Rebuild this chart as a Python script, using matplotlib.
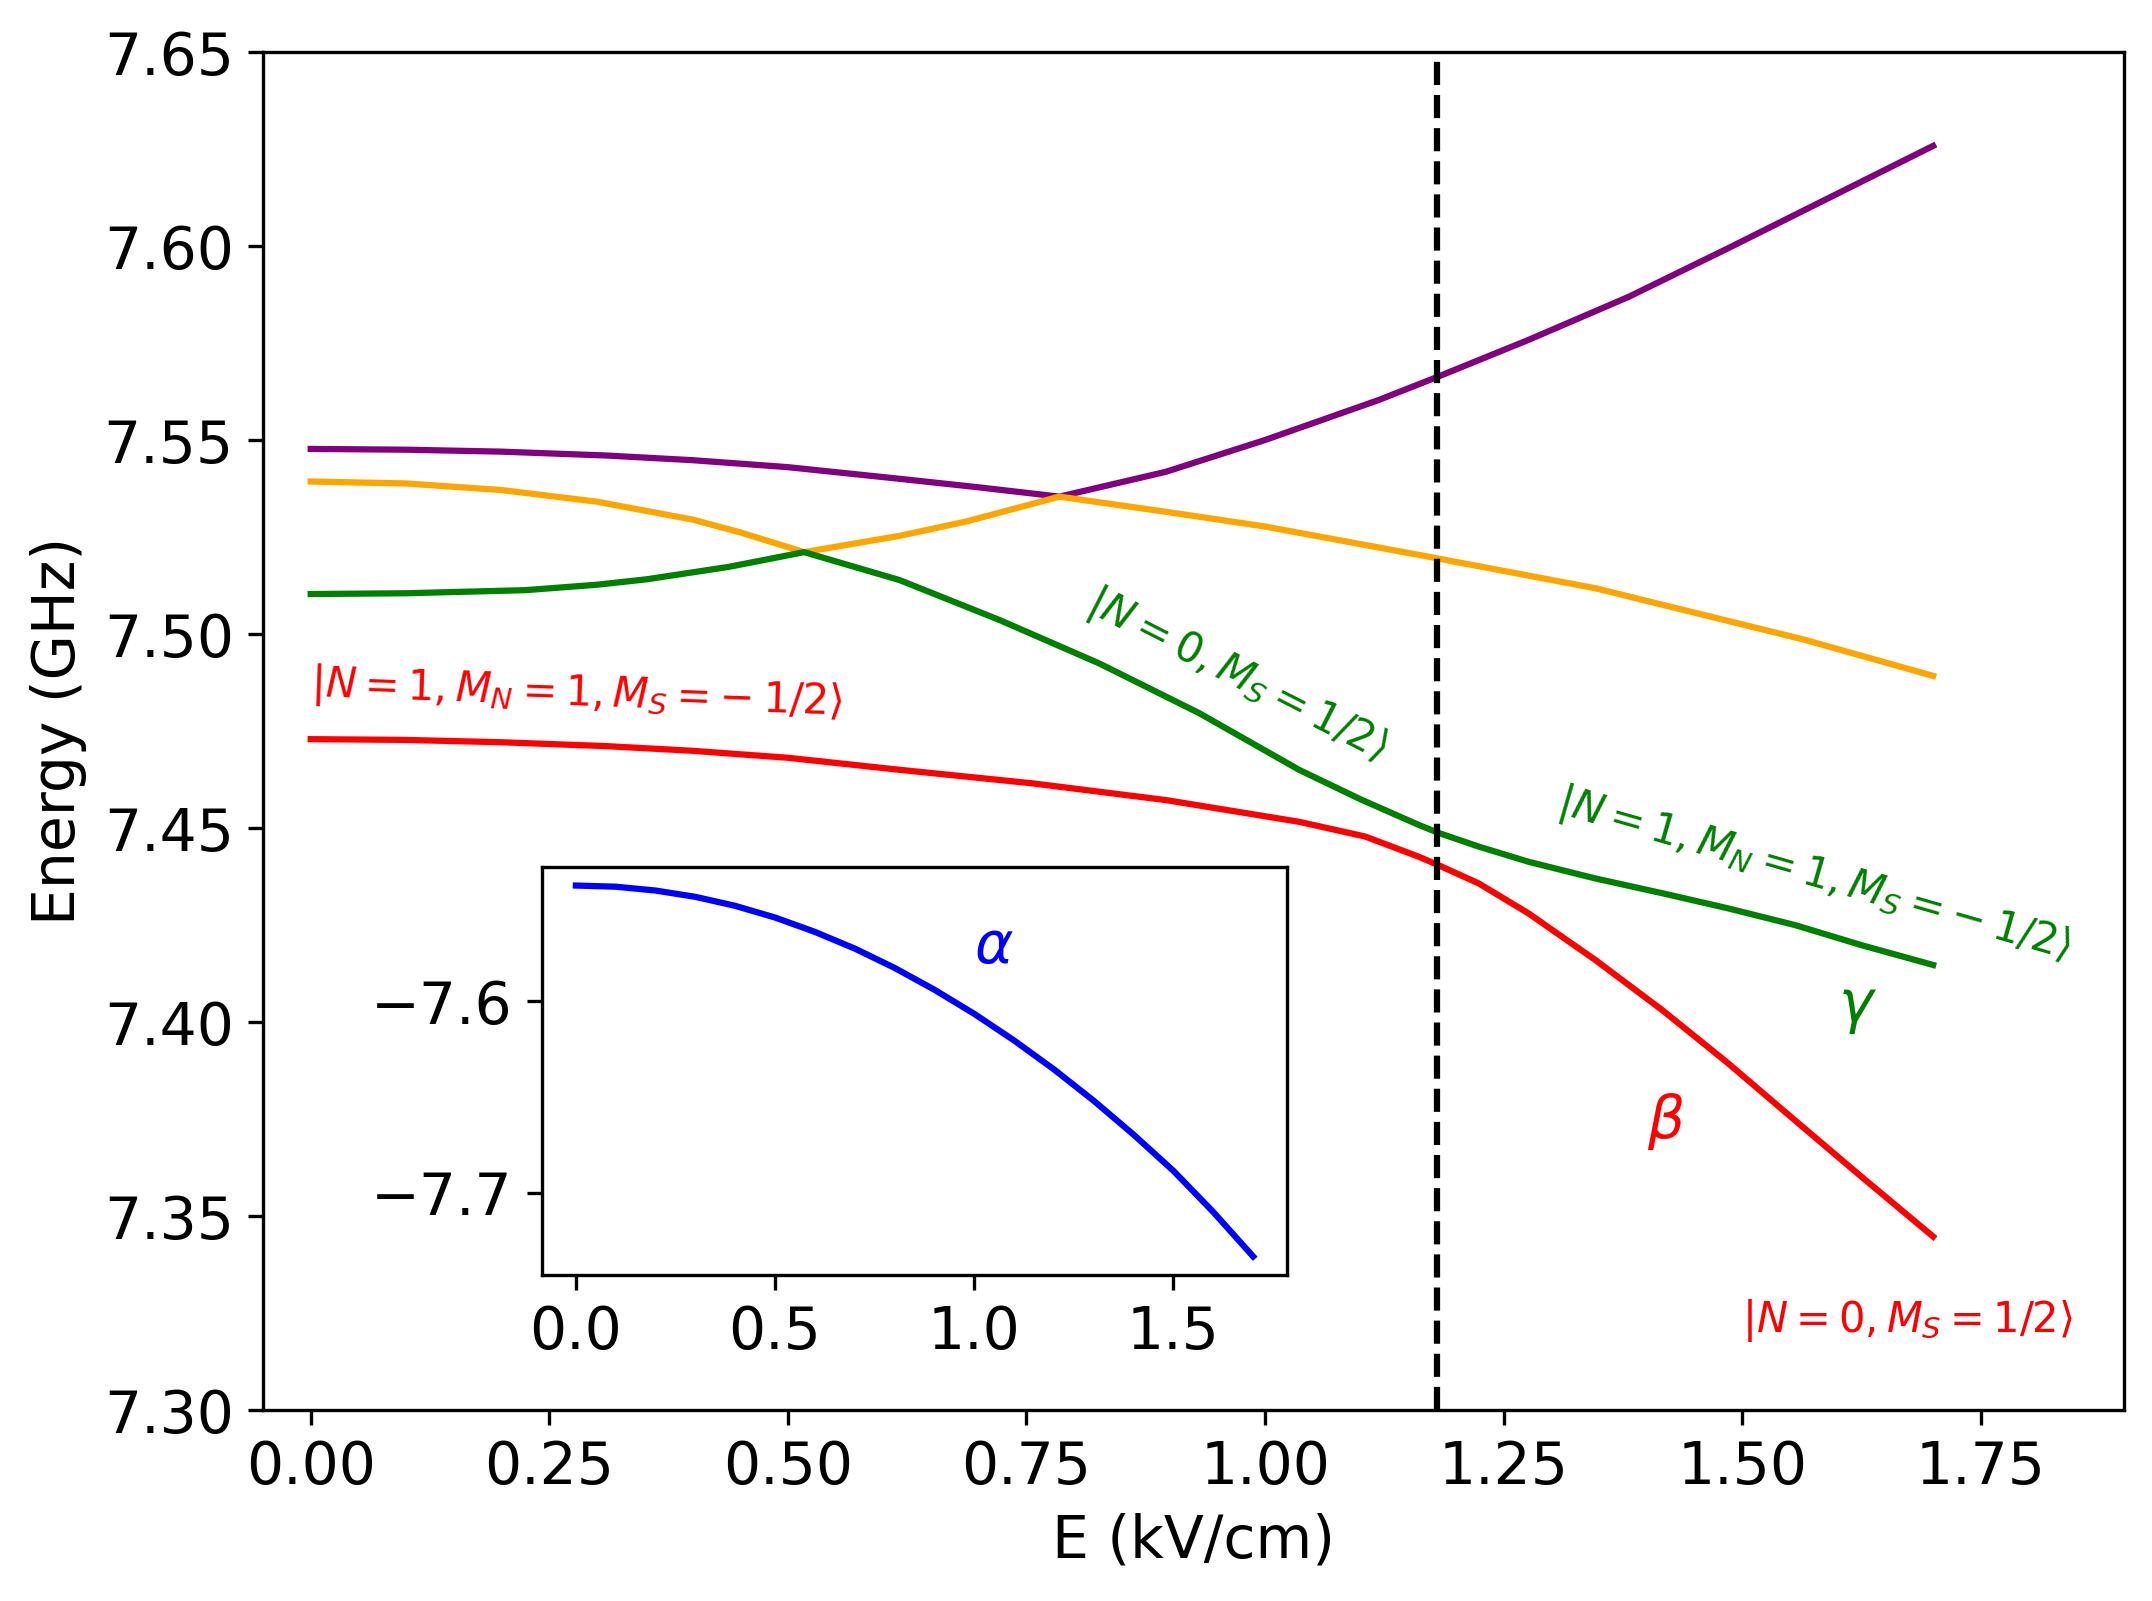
import numpy as np
import matplotlib
matplotlib.use("Agg")
import matplotlib.pyplot as plt

plt.rcParams['font.size'] = 14

# energy levels (GHz) vs field (kV/cm)
E_purple = [0, 0.1, 0.2, 0.31, 0.4, 0.5, 0.617, 0.7, 0.7845, 0.896, 1.0,
            1.119, 1.181, 1.276, 1.381, 1.485, 1.59, 1.70]
purple = [7.5477, 7.5475, 7.5470, 7.5460, 7.5448, 7.5430, 7.5400, 7.5378,
          7.5354, 7.5418, 7.5500, 7.5603, 7.5663, 7.5758, 7.5869, 7.5994,
          7.6123, 7.6258]

E_orange = [0, 0.1, 0.2, 0.3, 0.4, 0.45, 0.517, 0.617, 0.687, 0.7845, 0.896,
            1.0, 1.161, 1.346, 1.5656, 1.70]
orange = [7.5393, 7.5388, 7.5371, 7.5341, 7.5295, 7.5262, 7.5211, 7.5253,
          7.5290, 7.5354, 7.5315, 7.5277, 7.5204, 7.5118, 7.4985, 7.4892]

E_green = [0, 0.1, 0.225, 0.3, 0.352, 0.438, 0.517, 0.617, 0.7218, 0.8264,
           0.931, 1.0356, 1.1, 1.161, 1.181, 1.224, 1.276, 1.346, 1.416,
           1.485, 1.555, 1.625, 1.70]
green = [7.5103, 7.5105, 7.5113, 7.5127, 7.5141, 7.5173, 7.5211, 7.5139,
         7.5036, 7.4924, 7.4796, 7.4650, 7.4574, 7.4508, 7.4488, 7.4452,
         7.4413, 7.4370, 7.4332, 7.4293, 7.4250, 7.4198, 7.4147]

E_red = [0, 0.1, 0.2, 0.31, 0.4, 0.5, 0.617, 0.7566, 0.896, 1.0356, 1.105,
         1.161, 1.181, 1.224, 1.276, 1.346, 1.416, 1.485, 1.555, 1.625, 1.70]
red = [7.4729, 7.4727, 7.4721, 7.4711, 7.4699, 7.4681, 7.4650, 7.4615,
       7.4572, 7.4516, 7.4478, 7.4426, 7.4405, 7.4357, 7.4280, 7.4160,
       7.4031, 7.3894, 7.3747, 7.3601, 7.3447]

# inset: lowest level
E_blue = [0, 0.1, 0.2, 0.3, 0.4, 0.5, 0.6, 0.7, 0.8, 0.9, 1.0, 1.1, 1.2,
          1.3, 1.4, 1.5, 1.6, 1.7]
blue = [-7.5396, -7.5402, -7.5422, -7.5455, -7.5502, -7.5563, -7.5638,
        -7.5725, -7.5826, -7.5940, -7.6066, -7.6205, -7.6356, -7.6520,
        -7.6697, -7.6886, -7.7101, -7.7333]

E_cross = 1.18

xticks = [0.00, 0.25, 0.50, 0.75, 1.00, 1.25, 1.50, 1.75]
yticks = [7.30, 7.35, 7.40, 7.45, 7.50, 7.55, 7.60, 7.65]

W, H = 2152, 1601
fig = plt.figure(figsize=(W / 300, H / 300), dpi=300)
ax = fig.add_axes([263 / W, (H - 1410) / H, 1861 / W, 1358 / H])

ax.plot(E_purple, purple, color='purple')
ax.plot(E_orange, orange, color='orange')
ax.plot(E_green, green, color='green')
ax.plot(E_red, red, color='red')
ax.axvline(E_cross, color='k', linestyle='--')

ax.set_xlim(-0.05, 1.9)
ax.set_ylim(7.30, 7.65)
ax.set_xticks(xticks)
ax.set_yticks(yticks)
ax.set_xlabel('E (kV/cm)')
ax.set_ylabel('Energy (GHz)')

# state labels
ax.text(0.0, 7.484, r'$|N=1, M_N=1, M_S=-\:1/2\rangle$', color='red',
        fontsize=10, rotation=-2, rotation_mode='anchor')
ax.text(1.5, 7.32, r'$|N=0, M_S=1/2\rangle$', color='red', fontsize=10)
ax.text(0.811, 7.506, r'$|N=0, M_S=1/2\rangle$', color='green', fontsize=10,
        rotation=-27, rotation_mode='anchor', ha='left', va='baseline')
ax.text(1.304, 7.454, r'$|N=1, M_N=1, M_S=-\:1/2\rangle$', color='green',
        fontsize=10, rotation=-16, rotation_mode='anchor', ha='left',
        va='baseline')
ax.text(1.4, 7.37, r'$\beta$', color='red', fontsize=14)
ax.text(1.6, 7.40, r'$\gamma$', color='green', fontsize=14)

# inset
axin = fig.add_axes([542 / W, (H - 1275) / H, 745 / W, 408 / H])
axin.plot(E_blue, blue, color='blue')
axin.set_xticks([0.0, 0.5, 1.0, 1.5])
axin.set_yticks([-7.6, -7.7])
axin.text(1.0, -7.58, r'$\alpha$', color='blue', fontsize=14)

fig.savefig('out.png', dpi=300)
